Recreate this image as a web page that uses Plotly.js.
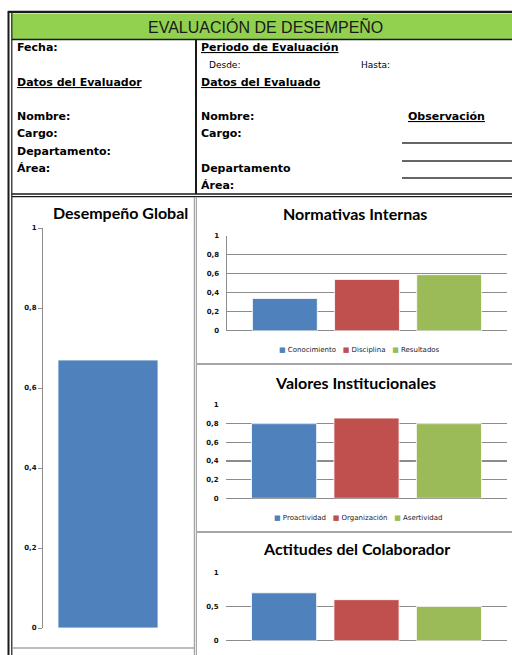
<!DOCTYPE html>
<html>
<head>
<meta charset="utf-8">
<script src="https://cdn.plot.ly/plotly-3.0.1.min.js"></script>
<style>
  html, body { margin: 0; padding: 0; background: #ffffff; }
  #chart { width: 512px; height: 655px; }
</style>
</head>
<body>
<div id="chart"></div>
<script>
// ---- Data ----
const globalCategory = ['Desempeño Global'];
const globalValues = [0.67];

const normativasSeries = ['Conocimiento', 'Disciplina', 'Resultados'];
const normativasValues = [0.34, 0.54, 0.59];

const valoresSeries = ['Proactividad', 'Organización', 'Asertividad'];
const valoresValues = [0.8, 0.86, 0.8];

const actitudesSeries = ['Actitud 1', 'Actitud 2', 'Actitud 3'];
const actitudesValues = [0.7, 0.6, 0.5];

const seriesColors = ['#4F81BD', '#C0504D', '#9BBB59'];

// ---- Page geometry helpers (pixel -> paper) ----
const W = 512, H = 655;
const px = x => x / W;
const py = y => 1 - y / H;

const tickFont = { family: 'DejaVu Sans', size: 7, color: '#111', weight: 'bold' };
const gridGray = '#8c8c8c';

// ---- Traces ----
const traces = [];
traces.push({
  type: 'bar', x: globalCategory, y: globalValues, xaxis: 'x', yaxis: 'y',
  marker: { color: seriesColors[0], line: { color: 'rgba(255,255,255,0.8)', width: 1 } },
  showlegend: false, hoverinfo: 'y'
});

function addGroup(names, values, xa, ya, cat) {
  names.forEach((n, i) => {
    traces.push({
      type: 'bar', name: n, x: [cat], y: [values[i]], xaxis: xa, yaxis: ya,
      marker: { color: seriesColors[i], line: { color: 'rgba(255,255,255,0.8)', width: 1 } },
      showlegend: false, hoverinfo: 'name+y'
    });
  });
}
addGroup(normativasSeries, normativasValues, 'x2', 'y2', 'Normativas Internas');
addGroup(valoresSeries, valoresValues, 'x3', 'y3', 'Valores Institucionales');
addGroup(actitudesSeries, actitudesValues, 'x4', 'y4', 'Actitudes del Colaborador');

// ---- Axes ----
const hiddenX = (d, range, anchor) => ({
  domain: d, anchor: anchor, type: 'category', range: range,
  showticklabels: false, showgrid: false, zeroline: false, showline: false,
  ticks: '', fixedrange: true
});

function gridY(d, dtick, showline, anchor) {
  return {
    domain: d, anchor: anchor, range: [0, 1], dtick: dtick, tick0: 0,
    showgrid: true, gridcolor: gridGray, gridwidth: 1.5,
    zeroline: true, zerolinecolor: gridGray, zerolinewidth: 1.5,
    showline: showline, linecolor: gridGray, linewidth: 1.5,
    ticks: 'outside', ticklen: 5, tickcolor: 'rgba(0,0,0,0)',
    tickfont: tickFont, fixedrange: true
  };
}

// ---- Form text ----
const labelFont = { family: 'DejaVu Sans', size: 11, color: '#000', weight: 'bold' };
const smallFont = { family: 'DejaVu Sans', size: 9, color: '#000' };
const titleFont = { family: 'Lato', size: 16, color: '#000', weight: 'bold' };
const legendFont = { family: 'DejaVu Sans', size: 7, color: '#222' };

function txt(text, x, y, font, anchor) {
  return { text: text, x: px(x), y: py(y), xref: 'paper', yref: 'paper',
           xanchor: anchor || 'left', yanchor: 'middle', showarrow: false,
           font: font, borderpad: 0 };
}

function legendText(names) {
  return names.map((n, i) =>
    '<span style="color:' + seriesColors[i] + '">■</span> ' + n).join('   ');
}

const annotations = [
  txt('EVALUACIÓN DE DESEMPEÑO', 265, 27,
      { family: 'Liberation Sans', size: 16, color: '#1a1a1a' }, 'center'),
  txt('Fecha:', 16, 48, labelFont),
  txt('<u>Datos del Evaluador</u>', 16, 83, labelFont),
  txt('Nombre:', 16, 117, labelFont),
  txt('Cargo:', 16, 134, labelFont),
  txt('Departamento:', 16, 151, labelFont),
  txt('Área:', 16, 168, labelFont),
  txt('<u>Periodo de Evaluación</u>', 200, 48, labelFont),
  txt('Desde:', 208, 65, smallFont),
  txt('Hasta:', 360, 65, smallFont),
  txt('<u>Datos del Evaluado</u>', 200, 83, labelFont),
  txt('Nombre:', 200, 117, labelFont),
  txt('Cargo:', 200, 134, labelFont),
  txt('Departamento', 200, 169, labelFont),
  txt('Área:', 200, 185, labelFont),
  txt('<u>Observación</u>', 407, 117, labelFont),
  // chart titles
  txt('Desempeño Global', 120, 212, titleFont, 'center'),
  txt('Normativas Internas', 355, 213, titleFont, 'center'),
  txt('Valores Institucionales', 355, 382, titleFont, 'center'),
  txt('Actitudes del Colaborador', 356, 548, titleFont, 'center'),
  // legends
  txt(legendText(normativasSeries), 359, 350, legendFont, 'center'),
  txt(legendText(valoresSeries), 358, 518, legendFont, 'center')
];

// ---- Form lines ----
function hline(x0, x1, y, color, w) {
  return { type: 'line', xref: 'paper', yref: 'paper', x0: px(x0), x1: px(x1),
           y0: py(y), y1: py(y), line: { color: color, width: w } };
}
function vline(x, y0, y1, color, w) {
  return { type: 'line', xref: 'paper', yref: 'paper', x0: px(x), x1: px(x),
           y0: py(y0), y1: py(y1), line: { color: color, width: w } };
}
const dark = '#1a1a1a', panel = '#a6a6a6';
const shapes = [
  { type: 'rect', xref: 'paper', yref: 'paper', layer: 'below',
    x0: px(12), x1: px(512), y0: py(39), y1: py(13.5),
    fillcolor: '#92D050', line: { width: 0 } },
  // outer double border
  vline(8.5, 11, 655, dark, 2),
  vline(11.8, 13, 655, dark, 1.2),
  hline(8, 512, 11.8, dark, 2.2),
  hline(12, 512, 39.5, dark, 1.5),
  // column divider and section bottom
  vline(196, 40, 194, dark, 2),
  hline(12, 512, 194, dark, 1.4),
  hline(12, 512, 196.6, dark, 1.2),
  // observation lines
  hline(402, 512, 143, '#333', 1.5),
  hline(402, 512, 161, '#333', 1.5),
  hline(402, 512, 178, '#333', 1.5),
  // chart panel borders
  vline(194.5, 197, 655, panel, 1.5),
  vline(196.5, 197, 655, panel, 1),
  hline(12, 195, 648, panel, 1.5),
  hline(197, 512, 364, panel, 1.8),
  hline(197, 512, 532, panel, 1.8)
];

const layout = {
  width: W, height: H,
  margin: { l: 0, r: 0, t: 0, b: 0 },
  paper_bgcolor: '#ffffff', plot_bgcolor: 'rgba(0,0,0,0)',
  separators: ',.',
  barmode: 'group', bargap: 0.12, bargroupgap: 0.21,
  showlegend: false,
  xaxis: hiddenX([px(43), px(173)], [-0.452, 0.452], 'y'),
  yaxis: {
    domain: [py(628), py(228)], anchor: 'x', range: [0, 1], dtick: 0.2, tick0: 0,
    showgrid: false, zeroline: false, showline: true, linecolor: '#8c8c8c', linewidth: 1,
    ticks: 'outside', ticklen: 4, tickcolor: '#8c8c8c', tickfont: tickFont, fixedrange: true
  },
  xaxis2: hiddenX([px(227), px(507)], [-0.5, 0.5], 'y2'),
  yaxis2: gridY([py(330.7), py(235.7)], 0.2, true, 'x2'),
  xaxis3: hiddenX([px(226), px(507)], [-0.5, 0.5], 'y3'),
  yaxis3: gridY([py(498.3), py(405)], 0.2, false, 'x3'),
  xaxis4: hiddenX([px(226), px(507)], [-0.5, 0.5], 'y4'),
  yaxis4: gridY([py(640.7), py(572.3)], 0.5, false, 'x4'),
  annotations: annotations,
  shapes: shapes
};

Plotly.newPlot('chart', traces, layout, { staticPlot: true, displayModeBar: false });
</script>
</body>
</html>
